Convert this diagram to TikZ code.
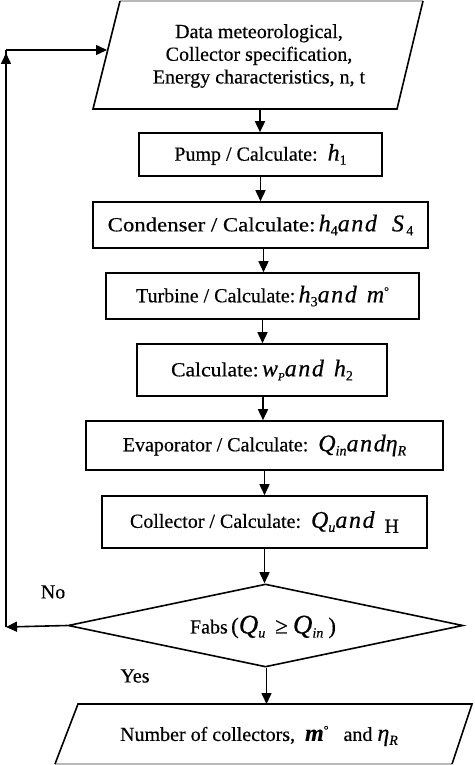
\documentclass[tikz,border=0pt]{standalone}
\usepackage{fontspec}
\setmainfont{Liberation Serif}[FakeBold=0.4]
\usetikzlibrary{arrows.meta,shapes.geometric,calc}
\newcommand\mvar[1]{{\fontsize{24}{24}\selectfont\itshape #1}}
\newcommand\andw{\mvar{a\kern1.6pt n\kern1.6pt d}}
\newcommand\lsub[1]{\raisebox{-4pt}{\fontsize{14}{14}\selectfont #1}}
\newcommand\degr{\raisebox{7pt}{\fontsize{12}{12}\selectfont °}}
\begin{document}
\begin{tikzpicture}[x=1pt,y=-1pt,
  every node/.style={font=\fontsize{20}{22.7}\selectfont},
  box/.style={draw, line width=1.6pt, inner sep=0pt, align=center},
  arr/.style={line width=1.6pt, -{Triangle[length=11pt,width=10pt]}},
  edgeln/.style={line width=1.6pt, line join=miter}]
\useasboundingbox (0,0) rectangle (474,765);
\fill[white] (0,0) rectangle (474,765);

% top input parallelogram
\coordinate (p1) at (120,1);
\coordinate (p2) at (423,1);
\coordinate (p3) at (397,109);
\coordinate (p4) at (93,109);
\draw[gray!55, line width=3pt] (p1) -- (p2);
\draw[edgeln] (p2) -- (p3) -- (p4) -- (p1);
\node[align=center] (input) at (259,56) {Data meteorological,\\Collector specification,\\Energy characteristics, n, t};
\coordinate (inB) at (260,109);
\coordinate (inL) at (107,50);

% process boxes
\node[box, minimum width=243pt, minimum height=43pt] (pump) at (260.5,154.5)
  {Pump / Calculate:\ \ \mvar{h}\lsub{1}};
\node[box, minimum width=335pt, minimum height=46pt] (cond) at (260.5,225)
  {{\addfontfeature{FakeStretch=1.14}Condenser / Calculate:}\,\mvar{h}\lsub{4}\andw\ \ \ \mvar{S}\lsub{\,4}};
\node[box, minimum width=313pt, minimum height=46pt] (turb) at (262.5,296)
  {Turbine / Calculate:\,\mvar{h}\lsub{3}\andw\ \ \mvar{m}\degr};
\node[box, minimum width=250pt, minimum height=52pt] (calc) at (262,370)
  {{\addfontfeature{FakeStretch=1.08}Calculate:}\,\mvar{w}\lsub{\itshape\fontsize{11}{11}\selectfont P}\andw\ \ \mvar{h}\lsub{2}};
\node[box, minimum width=357pt, minimum height=49pt] (evap) at (264.5,445.5)
  {Evaporator / Calculate:\ \ \mvar{Q}\lsub{\itshape in}\andw\mvar{η}\lsub{\itshape R}};
\node[box, minimum width=325pt, minimum height=52pt] (coll) at (264.5,522)
  {Collector / Calculate:\ \ \mvar{Q}\lsub{\itshape u}\andw\ \ \raisebox{-5pt}{H}};

% decision
\node[draw, diamond, line width=1.6pt, inner sep=0pt, minimum width=395pt, minimum height=83pt] (dec) at (265.5,625.5) {};
\node (dectext) at (263,627) {Fabs\,{\fontsize{23}{23}\selectfont(}{\fontsize{27}{27}\selectfont\itshape Q}\lsub{\itshape u}\ \ {\fontsize{23}{23}\selectfont ≥}\ {\fontsize{27}{27}\selectfont\itshape Q}\lsub{\itshape in}\ {\fontsize{23}{23}\selectfont)}};

% output parallelogram
\coordinate (q1) at (78,704);
\coordinate (q2) at (472,704);
\coordinate (q3) at (452,764);
\coordinate (q4) at (55,764);
\draw[gray!55, line width=3pt] (q4) -- (q3);
\draw[edgeln] (q3) -- (q2) -- (q1) -- (q4);
\node (output) at (259,736) {Number of collectors,\ \ {\fontsize{24}{24}\selectfont\itshape\bfseries m}\degr\ \ \ and\ \mvar{η}\lsub{\itshape R}};
\coordinate (outT) at (267,704);

% labels
\node (no) at (53,592) {No};
\node (yes) at (135,676) {Yes};

% connectors
\draw[arr] (inB) -- (inB |- pump.north);
\draw[arr] (pump.south) -- (pump.south |- cond.north);
\draw[arr] ([xshift=3pt]cond.south) -- ([xshift=3pt]cond.south |- turb.north);
\draw[arr] (turb.south) -- (turb.south |- calc.north);
\draw[arr] ([xshift=1pt]calc.south) -- ([xshift=1pt]calc.south |- evap.north);
\draw[arr] (evap.south) -- (evap.south |- coll.north);
\draw[arr] (coll.south) -- (coll.south |- dec.north);
\draw[arr] ([xshift=1pt]dec.south) -- ([xshift=1pt]dec.south |- outT);

% feedback loop
\coordinate (c1) at (6,627);
\coordinate (c2) at (6,50);
\draw[arr] (dec.west) -- (c1);
\draw[edgeln] (c1) -- (c2);
\draw[arr] (c1) -- ($(c2)+(0,3)$);
\draw[arr] (c2) -- (inL);
\end{tikzpicture}
\end{document}
